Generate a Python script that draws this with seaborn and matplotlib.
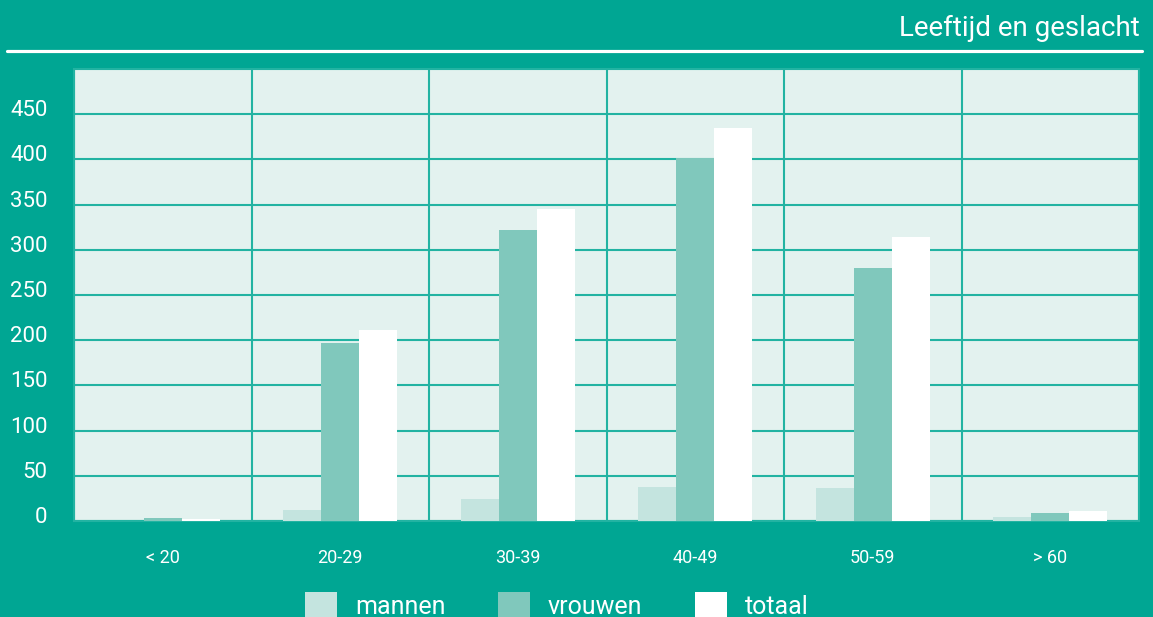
import numpy as np
import pandas as pd
import seaborn as sns
import matplotlib
matplotlib.use("Agg")
import matplotlib.pyplot as plt
from matplotlib.patches import Patch
from matplotlib.lines import Line2D
import matplotlib.transforms as mtransforms

# ---- data ----
categories = ["< 20", "20-29", "30-39", "40-49", "50-59", "> 60"]
mannen = [0, 12, 24, 38, 36, 4]
vrouwen = [3, 197, 322, 402, 280, 9]
totaal = [2, 211, 345, 435, 314, 11]
series_names = ["mannen", "vrouwen", "totaal"]
y_ticks = [0, 50, 100, 150, 200, 250, 300, 350, 400, 450]
title = "Leeftijd en geslacht"

# ---- styling ----
BG = "#00A693"
FACE = "#E3F2EF"
GRID = "#22B3A2"
COLORS = ["#C4E4DF", "#80C8BC", "#FFFFFF"]

sns.set_theme(style="white")
plt.rcParams["font.family"] = ["Roboto", "DejaVu Sans"]

df = pd.DataFrame({
    "leeftijd": categories * 3,
    "aantal": mannen + vrouwen + totaal,
    "geslacht": [s for s in series_names for _ in categories],
})

W, H = 1153, 617
fig = plt.figure(figsize=(W / 100, H / 100), dpi=100, facecolor=BG)
ax = fig.add_axes([74 / W, 1 - 521 / H, (1139 - 74) / W, (521 - 69) / H])
ax.set_facecolor(FACE)

sns.barplot(data=df, x="leeftijd", y="aantal", hue="geslacht",
            order=categories, hue_order=series_names, palette=COLORS,
            width=0.643, saturation=1, dodge=True, linewidth=0,
            legend=False, ax=ax, zorder=3)

ax.set_xlim(-0.5, len(categories) - 0.5)
ax.set_ylim(0, 500)
ax.set_yticks(y_ticks)
ax.set_xticks(np.arange(-0.5, len(categories), 1), minor=True)
ax.set_axisbelow(True)
ax.grid(False)
ax.grid(True, which="major", axis="y", color=GRID, linewidth=1.5, zorder=0)
ax.grid(True, which="minor", axis="x", color=GRID, linewidth=1.5, zorder=0)
ax.set_xlabel("")
ax.set_ylabel("")

for side in ["top", "left", "right", "bottom"]:
    ax.spines[side].set_color(GRID)
    ax.spines[side].set_linewidth(1.5)

ax.tick_params(axis="y", which="both", length=0, pad=19, labelsize=16, labelcolor="white")
ax.tick_params(axis="x", which="both", length=0, pad=20, labelsize=13, labelcolor="white")

offset = mtransforms.ScaledTranslation(0, 6 / 100, fig.dpi_scale_trans)
for lab in ax.get_yticklabels():
    lab.set_transform(lab.get_transform() + offset)

# title and white rule
fig.text(1140 / W, 1 - 36 / H, title, ha="right", va="baseline",
         fontsize=20, color="white")
fig.add_artist(Line2D([7 / W, 1142 / W], [1 - 51 / H, 1 - 51 / H],
                      color="white", linewidth=2.3, transform=fig.transFigure))

# legend
handles = [Patch(facecolor=c, edgecolor="none") for c in COLORS]
fig.legend(handles, series_names, loc="upper left",
           bbox_to_anchor=(305 / W, 1 - 592 / H), bbox_transform=fig.transFigure,
           ncol=3, frameon=False, fontsize=18, labelcolor="white",
           handlelength=1.28, handleheight=1.3, handletextpad=0.72,
           columnspacing=2.1, borderpad=0, borderaxespad=0)

fig.savefig("out.png", dpi=100, facecolor=BG)
